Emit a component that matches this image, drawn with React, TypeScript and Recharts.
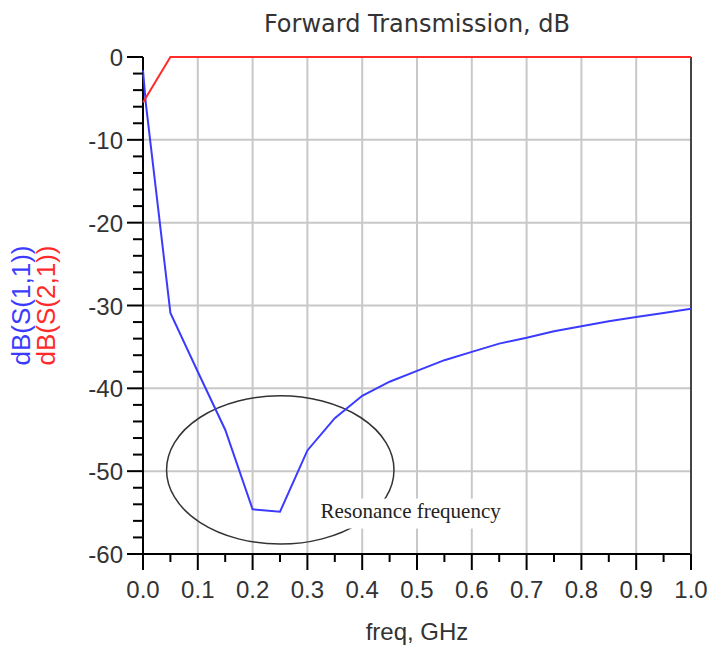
import React from 'react';
import {
  CartesianGrid,
  Line,
  LineChart,
  ReferenceArea,
  ReferenceDot,
  XAxis,
  YAxis,
} from 'recharts';

// dB(S(1,1)) sweep
const s11Freq = [0, 0.005, 0.05, 0.1, 0.15, 0.2, 0.25, 0.3, 0.35, 0.4, 0.45, 0.5, 0.55, 0.6, 0.65, 0.7, 0.75, 0.8, 0.85, 0.9, 0.95, 1.0];
const s11Db = [-1.6, -5.5, -30.9, -38.0, -45.0, -54.6, -54.9, -47.5, -43.6, -40.9, -39.2, -37.9, -36.6, -35.6, -34.6, -33.9, -33.1, -32.5, -31.9, -31.4, -30.9, -30.4];

// dB(S(2,1))
const s21Freq = [0, 0.05, 0.1, 0.15, 0.2, 0.25, 0.3, 0.35, 0.4, 0.45, 0.5, 0.55, 0.6, 0.65, 0.7, 0.75, 0.8, 0.85, 0.9, 0.95, 1.0];
const s21Db = [-5.5, 0, 0, 0, 0, 0, 0, 0, 0, 0, 0, 0, 0, 0, 0, 0, 0, 0, 0, 0, 0];

const xTicks = [0, 0.05, 0.1, 0.15, 0.2, 0.25, 0.3, 0.35, 0.4, 0.45, 0.5, 0.55, 0.6, 0.65, 0.7, 0.75, 0.8, 0.85, 0.9, 0.95, 1.0];
const xMajor = [0, 0.1, 0.2, 0.3, 0.4, 0.5, 0.6, 0.7, 0.8, 0.9, 1.0];
const xLabels = ['0.0', '0.1', '0.2', '0.3', '0.4', '0.5', '0.6', '0.7', '0.8', '0.9', '1.0'];
const xGrid = [0.1, 0.2, 0.3, 0.4, 0.5, 0.6, 0.7, 0.8, 0.9];

const yTicks = [0, -2, -4, -6, -8, -10, -12, -14, -16, -18, -20, -22, -24, -26, -28, -30, -32, -34, -36, -38, -40, -42, -44, -46, -48, -50, -52, -54, -56, -58, -60];
const yMajor = [0, -10, -20, -30, -40, -50, -60];
const yLabels = ['0', '-10', '-20', '-30', '-40', '-50', '-60'];
const yGrid = [-10, -20, -30, -40, -50];

// annotation: ellipse round the dip, and its caption
const ellipseBox = { x1: 0.043, x2: 0.458, y1: -40.9, y2: -58.8 };
const noteAt = { freq: 0.324, db: -55.6 };
const noteText = 'Resonance frequency';

const s11Data = s11Freq.map((f, i) => ({ freq: f, s11: s11Db[i] }));
const s21Data = s21Freq.map((f, i) => ({ freq: f, s21: s21Db[i] }));

const SANS = '"Liberation Sans", Arial, sans-serif';
const BLUE = '#3b3bff';
const RED = '#ff2a2a';

const near = (a: number, b: number) => Math.abs(a - b) < 1e-6;

function XTick({ x, y, payload }: any) {
  const idx = xMajor.findIndex((m) => near(m, payload.value));
  const major = idx >= 0;
  return (
    <g>
      <line x1={x} x2={x} y1={y} y2={y + (major ? 16 : 8)} stroke="#000" strokeWidth={2} />
      {major && (
        <text x={x} y={y + 44} textAnchor="middle" fontSize={24} fontFamily={SANS} fill="#333">
          {xLabels[idx]}
        </text>
      )}
    </g>
  );
}

function YTick({ x, y, payload }: any) {
  const idx = yMajor.findIndex((m) => near(m, payload.value));
  const major = idx >= 0;
  return (
    <g>
      <line x1={x - (major ? 16 : 10)} x2={x} y1={y} y2={y} stroke="#000" strokeWidth={2} />
      {major && (
        <text x={x - 20} y={y + 9} textAnchor="end" fontSize={24} fontFamily={SANS} fill="#333">
          {yLabels[idx]}
        </text>
      )}
    </g>
  );
}

function YTitle({ viewBox }: any) {
  if (!viewBox) return null;
  const cy = viewBox.y + viewBox.height / 2;
  const bx = viewBox.x + 21;
  const rx = viewBox.x + 46;
  return (
    <g fontFamily={SANS} fontSize={26}>
      <text x={bx} y={cy} textAnchor="middle" dominantBaseline="central" fill={BLUE} transform={`rotate(-90 ${bx} ${cy})`}>
        dB(S(1,1))
      </text>
      <text x={rx} y={cy} textAnchor="middle" dominantBaseline="central" fill={RED} transform={`rotate(-90 ${rx} ${cy})`}>
        dB(S(2,1))
      </text>
    </g>
  );
}

function EllipseShape({ x, y, width, height }: any) {
  return (
    <ellipse
      cx={x + width / 2}
      cy={y + height / 2}
      rx={Math.abs(width) / 2}
      ry={Math.abs(height) / 2}
      fill="none"
      stroke="#333"
      strokeWidth={1.5}
    />
  );
}

function NoteShape({ cx, cy }: any) {
  return (
    <g>
      <rect x={cx - 3} y={cy - 19} width={188} height={30} fill="#fff" />
      <text x={cx} y={cy} fontSize={21} fontFamily='"Liberation Serif", "Times New Roman", serif' fill="#222">
        {noteText}
      </text>
    </g>
  );
}

export default function App() {
  return (
    <div style={{ position: 'relative', width: 709, height: 650, background: '#fff' }}>
      <style>{'body{margin:0;background:#fff}'}</style>
      <div
        style={{
          position: 'absolute',
          top: 10,
          left: 143,
          width: 548,
          textAlign: 'center',
          fontFamily: '"DejaVu Sans", Verdana, sans-serif',
          fontSize: 24,
          color: '#333',
        }}
      >
        Forward Transmission, dB
      </div>
      <LineChart width={709} height={650} margin={{ top: 57, right: 0, bottom: 0, left: 0 }}>
        <CartesianGrid
          stroke="#c8c8c8"
          strokeWidth={2}
          verticalCoordinatesGenerator={({ xAxis, offset }: any) =>
            xGrid.map((v) =>
              typeof xAxis?.scale === 'function' ? xAxis.scale(v) : offset.left + v * offset.width
            )
          }
          horizontalCoordinatesGenerator={({ yAxis, offset }: any) =>
            yGrid.map((v) =>
              typeof yAxis?.scale === 'function' ? yAxis.scale(v) : offset.top + (-v / 60) * offset.height
            )
          }
        />
        <XAxis
          type="number"
          dataKey="freq"
          domain={[0, 1]}
          ticks={xTicks}
          interval={0}
          height={96}
          tickSize={0}
          tickMargin={0}
          tickLine={false}
          axisLine={{ stroke: '#000', strokeWidth: 2 }}
          tick={<XTick />}
          label={{ value: 'freq, GHz', position: 'insideBottom', offset: 10, fontSize: 24, fontFamily: SANS, fill: '#333' }}
        />
        {/* top frame edge */}
        <XAxis
          xAxisId="top"
          orientation="top"
          type="number"
          domain={[0, 1]}
          height={0}
          tick={false}
          tickLine={false}
          axisLine={{ stroke: '#000', strokeWidth: 2 }}
        />
        <YAxis
          type="number"
          domain={[-60, 0]}
          ticks={yTicks}
          interval={0}
          width={143}
          tickSize={0}
          tickMargin={0}
          tickLine={false}
          axisLine={{ stroke: '#000', strokeWidth: 2 }}
          tick={<YTick />}
          label={<YTitle />}
        />
        {/* right frame edge */}
        <YAxis
          yAxisId="right"
          orientation="right"
          type="number"
          domain={[-60, 0]}
          width={18}
          tick={false}
          tickLine={false}
          axisLine={{ stroke: '#444', strokeWidth: 2 }}
        />
        <ReferenceArea
          x1={ellipseBox.x1}
          x2={ellipseBox.x2}
          y1={ellipseBox.y1}
          y2={ellipseBox.y2}
          shape={<EllipseShape />}
        />
        <ReferenceDot x={noteAt.freq} y={noteAt.db} r={0} shape={<NoteShape />} />
        <Line
          data={s11Data}
          dataKey="s11"
          type="linear"
          stroke={BLUE}
          strokeWidth={2}
          dot={false}
          isAnimationActive={false}
          zIndex={1000}
        />
        <Line
          data={s21Data}
          dataKey="s21"
          type="linear"
          stroke={RED}
          strokeWidth={2}
          dot={false}
          isAnimationActive={false}
          zIndex={1000}
        />
      </LineChart>
    </div>
  );
}
